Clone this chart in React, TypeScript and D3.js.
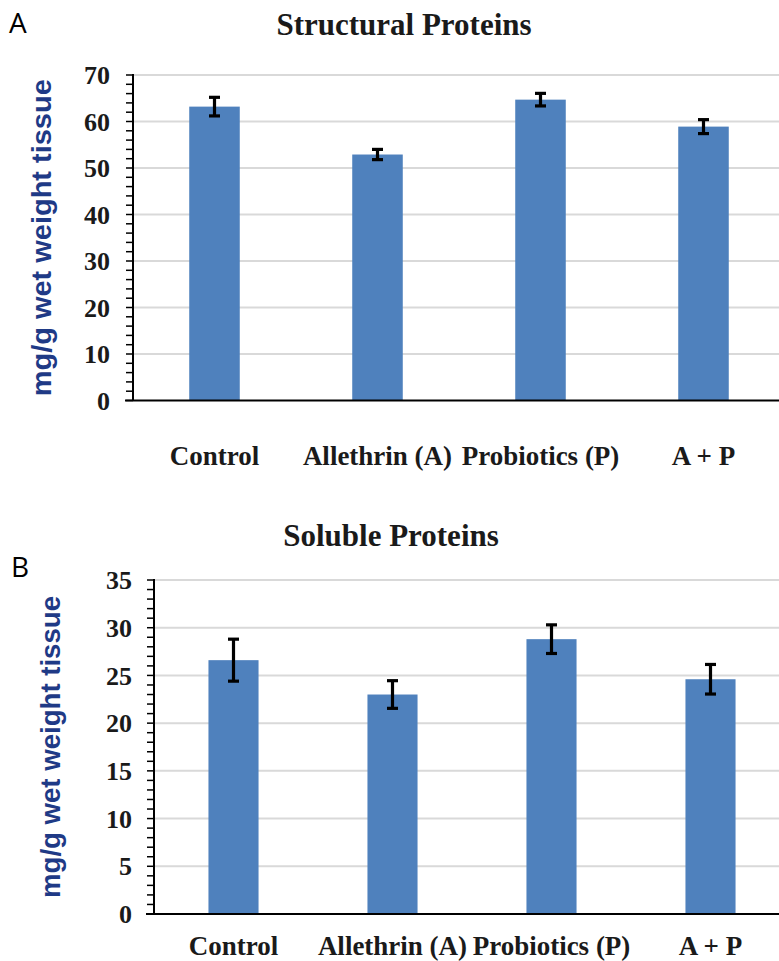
import React from "react";
import * as d3 from "d3";

const categories = ["Control", "Allethrin (A)", "Probiotics (P)", "A + P"];
const structuralValues = [63.2, 52.9, 64.7, 58.9];
const structuralErrors = [2.0, 1.1, 1.35, 1.5];
const solubleValues = [26.6, 23.0, 28.8, 24.6];
const solubleErrors = [2.2, 1.45, 1.5, 1.55];
const structuralTicks = [0, 10, 20, 30, 40, 50, 60, 70];
const solubleTicks = [0, 5, 10, 15, 20, 25, 30, 35];

const BAR = "#4F81BD";
const SERIF = "'Liberation Serif', 'Times New Roman', serif";
const SANS = "'Liberation Sans', Arial, sans-serif";
const YLABEL = "mg/g wet weight tissue";

type PanelProps = {
  letter: string;
  letterX: number;
  letterY: number;
  title: string;
  titleX: number;
  titleY: number;
  values: number[];
  errors: number[];
  ticks: number[];
  minorStep: number;
  x0: number;
  x1: number;
  yTop: number;
  yBottom: number;
  barFrac: number;
  labelY: number;
  yLabelX: number;
  yLabelLen: number;
  tickLabelGap: number;
};

function Panel(p: PanelProps) {
  const max = p.ticks[p.ticks.length - 1];
  const y = d3.scaleLinear().domain([0, max]).range([p.yBottom, p.yTop]);
  const x = d3.scaleBand<string>().domain(categories).range([p.x0, p.x1]).padding(0);
  const bw = x.bandwidth() * p.barFrac;
  const minor = d3.range(0, max + 0.001, p.minorStep);
  const axisX = p.x0;
  const yLabelCY = (p.yTop + p.yBottom) / 2;
  return (
    <g>
      <text x={p.letterX} y={p.letterY} fontFamily="'Open Sans', sans-serif" fontSize={28} fill="#000">
        {p.letter}
      </text>
      <text x={p.titleX} y={p.titleY} textAnchor="middle" fontFamily={SERIF} fontWeight="bold" fontSize={31} fill="#1a1a1a">
        {p.title}
      </text>
      {p.ticks.slice(1).map((t) => (
        <line key={"g" + t} x1={axisX} x2={p.x1} y1={y(t)} y2={y(t)} stroke="#d9d9d9" strokeWidth={2} />
      ))}
      {p.values.map((v, i) => {
        const cx = (x(categories[i]) as number) + x.bandwidth() / 2;
        return (
          <rect key={"b" + i} x={cx - bw / 2} y={y(v)} width={bw} height={y(0) - y(v)} fill={BAR} />
        );
      })}
      {p.values.map((v, i) => {
        const cx = (x(categories[i]) as number) + x.bandwidth() / 2;
        const e = p.errors[i];
        return (
          <g key={"e" + i} stroke="#000" strokeWidth={3.2}>
            <line x1={cx} x2={cx} y1={y(v + e)} y2={y(v - e)} />
            <line x1={cx - 5.5} x2={cx + 5.5} y1={y(v + e)} y2={y(v + e)} />
            <line x1={cx - 5.5} x2={cx + 5.5} y1={y(v - e)} y2={y(v - e)} />
          </g>
        );
      })}
      {minor.map((t) => (
        <line key={"m" + t} x1={axisX - 7} x2={axisX} y1={y(t)} y2={y(t)} stroke="#000" strokeWidth={1.5} />
      ))}
      <line x1={axisX} x2={axisX} y1={p.yTop - 1} y2={p.yBottom} stroke="#000" strokeWidth={2} />
      <line x1={axisX - 8} x2={p.x1} y1={p.yBottom} y2={p.yBottom} stroke="#000" strokeWidth={2} />
      {p.ticks.map((t) => (
        <text
          key={"t" + t}
          x={axisX - p.tickLabelGap}
          y={y(t)}
          dy="0.35em"
          textAnchor="end"
          fontFamily={SERIF}
          fontWeight="bold"
          fontSize={26}
          fill="#1a1a1a"
        >
          {t}
        </text>
      ))}
      {categories.map((c) => (
        <text
          key={"c" + c}
          x={(x(c) as number) + x.bandwidth() / 2}
          y={p.labelY}
          textAnchor="middle"
          fontFamily={SERIF}
          fontWeight="bold"
          fontSize={27}
          fill="#1a1a1a"
        >
          {c}
        </text>
      ))}
      <text
        transform={`translate(${p.yLabelX},${yLabelCY}) rotate(-90)`}
        textAnchor="middle"
        dy="0.35em"
        fontFamily={SANS}
        fontWeight="bold"
        fontSize={27}
        fill="#1f3a86"
        textLength={p.yLabelLen}
        lengthAdjust="spacingAndGlyphs"
      >
        {YLABEL}
      </text>
    </g>
  );
}

export default function App() {
  return (
    <svg
      width={779}
      height={961}
      style={{ position: "absolute", left: 0, top: 0, background: "#fff" }}
    >
      <rect x={0} y={0} width={779} height={961} fill="#fff" />
      <Panel
        letter="A"
        letterX={9}
        letterY={33}
        title="Structural Proteins"
        titleX={404}
        titleY={35}
        values={structuralValues}
        errors={structuralErrors}
        ticks={structuralTicks}
        minorStep={2}
        x0={133}
        x1={785}
        yTop={75}
        yBottom={400.5}
        barFrac={0.31}
        labelY={465}
        yLabelX={42}
        yLabelLen={317}
        tickLabelGap={23}
      />
      <Panel
        letter="B"
        letterX={11}
        letterY={577}
        title="Soluble Proteins"
        titleX={391}
        titleY={546}
        values={solubleValues}
        errors={solubleErrors}
        ticks={solubleTicks}
        minorStep={1}
        x0={154}
        x1={790}
        yTop={580}
        yBottom={914}
        barFrac={0.315}
        labelY={955}
        yLabelX={51}
        yLabelLen={302}
        tickLabelGap={22}
      />
    </svg>
  );
}
